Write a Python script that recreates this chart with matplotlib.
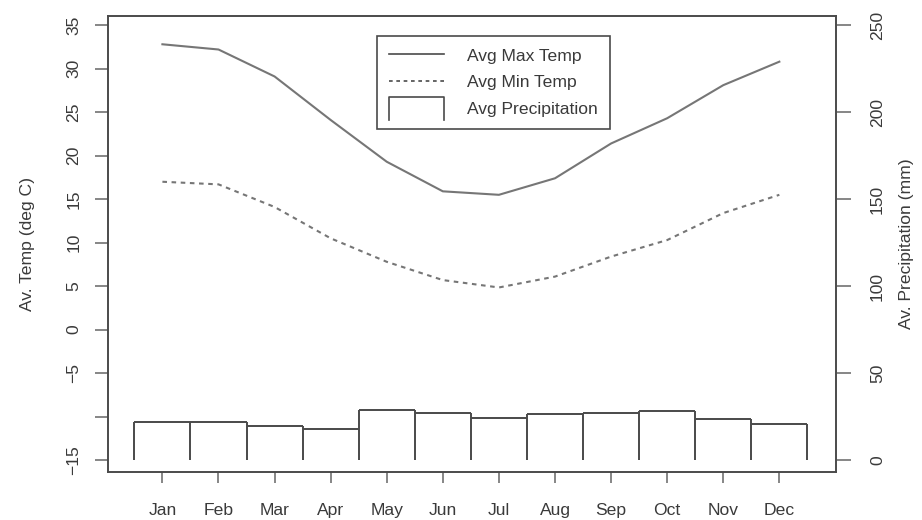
#Average monthly temperature (left axis) with precipitation bars (right axis)

import matplotlib
matplotlib.use('Agg')
import matplotlib.pyplot as plt
from matplotlib.lines import Line2D
from matplotlib.legend_handler import HandlerBase
import numpy as np

plt.rcParams['font.family'] = ['Liberation Sans', 'DejaVu Sans']

months = ['Jan', 'Feb', 'Mar', 'Apr', 'May', 'Jun',
          'Jul', 'Aug', 'Sep', 'Oct', 'Nov', 'Dec']
max_temp = [32.8, 32.2, 29.1, 24.1, 19.3, 15.9, 15.5, 17.4, 21.4, 24.3, 28.1, 30.8]
min_temp = [17.0, 16.7, 14.1, 10.5, 7.8, 5.7, 4.85, 6.1, 8.4, 10.3, 13.4, 15.5]
precip = [21.9, 22.2, 19.8, 18.1, 28.6, 27.1, 24.2, 26.3, 27.2, 28.2, 23.4, 20.8]

temp_ticks = [-15, -10, -5, 0, 5, 10, 15, 20, 25, 30, 35]
temp_labels = ['\u221215', '', '\u22125', '0', '5', '10', '15', '20', '25', '30', '35']
precip_ticks = [0, 50, 100, 150, 200, 250]

line_col = '#767676'
box_col = '#4a4a4a'
text_col = '#3a3a3a'
fs = 12.6

#Temperature -15..35 maps onto precipitation 0..250
temp_lim = (-16.3, 36.05)
def to_precip(t):
    return (t + 15) * 5

fig = plt.figure(figsize=(9.22, 5.2), dpi=100)
ax = fig.add_axes([108/922, 1 - 471.5/520, (836-108)/922, (471.5-16)/520])
ax2 = ax.twinx()

x = np.arange(1, 13)
ax.plot(x, max_temp, color=line_col, lw=1.5, solid_joinstyle='round')
ax.plot(x, min_temp, color=line_col, lw=1.5, linestyle=(0, (2.2, 2.2)))

#Precipitation bars: tops plus side walls, open at the bottom
edges = np.arange(0.5, 13.0, 1.0)
ax2.hlines(precip, edges[:-1], edges[1:], color=box_col, lw=1.4)
wall = [precip[0]] + [max(precip[i], precip[i+1]) for i in range(11)] + [precip[-1]]
ax2.vlines(edges, 0, wall, color=box_col, lw=1.4)

ax.set_xlim(0.03, 13.01)
ax.set_ylim(*temp_lim)
ax2.set_ylim(to_precip(temp_lim[0]), to_precip(temp_lim[1]))

ax.set_xticks(x)
ax.set_xticklabels(months)
ax.set_yticks(temp_ticks)
ax.set_yticklabels(temp_labels, rotation=90, va='center')
ax2.set_yticks(precip_ticks)
ax2.set_yticklabels([str(v) for v in precip_ticks], rotation=90, va='center')

for a in (ax, ax2):
    a.tick_params(width=1.1, color='#666666', labelsize=fs, labelcolor=text_col)
    for s in a.spines.values():
        s.set_color(box_col)
        s.set_linewidth(1.2)
ax.tick_params(axis='y', length=9.5, pad=9.5)
ax.tick_params(axis='x', length=8, pad=15)
ax2.tick_params(axis='y', length=11, pad=13.5)

ax.set_ylabel('Av. Temp (deg C)', fontsize=fs, color=text_col, labelpad=23)
ax2.set_ylabel('Av. Precipitation (mm)', fontsize=fs, color=text_col, labelpad=10)


class OpenBoxHandler(HandlerBase):
    #draws the bar symbol without its bottom edge
    def create_artists(self, legend, orig, xd, yd, width, height, fontsize, trans):
        top = yd + height * 1.4
        bot = yd - height * 0.45
        ln = Line2D([xd, xd, xd + width, xd + width], [bot, top, top, bot],
                    color=box_col, lw=1.2, transform=trans)
        return [ln]


handles = [Line2D([], [], color=box_col, lw=1.2),
           Line2D([], [], color=box_col, lw=1.2, linestyle=(0, (2.2, 2.2))),
           Line2D([], [])]
leg = fig.legend(handles, ['Avg Max Temp', 'Avg Min Temp', 'Avg Precipitation'],
                 loc='upper left', bbox_to_anchor=(377/922, 1 - 36/520),
                 fontsize=fs, frameon=True, fancybox=False, framealpha=1,
                 edgecolor=box_col, handlelength=3.1, handletextpad=1.35,
                 labelspacing=0.66, borderpad=0.7, borderaxespad=0,
                 handler_map={handles[2]: OpenBoxHandler()})
leg.get_frame().set_linewidth(1.2)
for t in leg.get_texts():
    t.set_color(text_col)

fig.savefig('out.png', dpi=100)
